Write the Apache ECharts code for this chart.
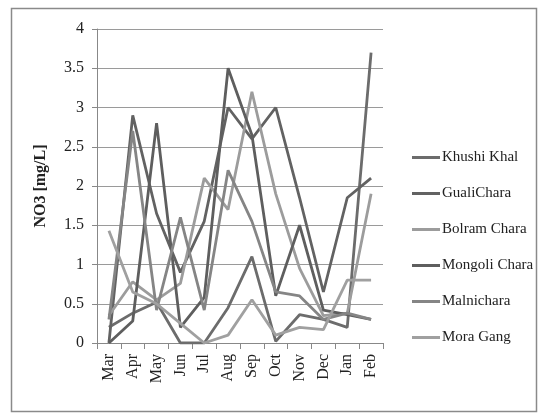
<!DOCTYPE html>
<html><head><meta charset="utf-8">
<script src="https://cdn.jsdelivr.net/npm/echarts@6/dist/echarts.min.js"></script>
<style>html,body{margin:0;padding:0;background:#fff}#c{width:544px;height:420px}</style>
</head><body><div id="c"></div>
<script>
const months = ['Mar','Apr','May','Jun','Jul','Aug','Sep','Oct','Nov','Dec','Jan','Feb'];
const yTicks = [0,0.5,1,1.5,2,2.5,3,3.5,4];
const khushiKhal   = [0.2, 0.38, 0.52, 0, 0, 0.45, 1.1, 0.02, 0.36, 0.3, 0.2, 3.7];
const gualiChara   = [0, 2.9, 1.65, 0.9, 1.55, 3.0, 2.6, 3.0, 1.85, 0.65, 1.85, 2.1];
const bolramChara  = [0.35, 0.78, 0.55, 0.76, 2.1, 1.7, 3.2, 1.9, 0.95, 0.35, 0.38, 1.9];
const mongoliChara = [0, 0.28, 2.8, 0.2, 0.58, 3.5, 2.65, 0.6, 1.5, 0.42, 0.36, 0.3];
const malnichara   = [0.3, 2.7, 0.42, 1.6, 0.42, 2.2, 1.55, 0.65, 0.6, 0.3, 0.38, 0.3];
const moraGang     = [1.43, 0.65, 0.5, 0.25, 0, 0.1, 0.55, 0.1, 0.2, 0.17, 0.8, 0.8];

const names = ['Khushi Khal','GualiChara','Bolram Chara','Mongoli Chara','Malnichara','Mora Gang'];
const datas = [khushiKhal, gualiChara, bolramChara, mongoliChara, malnichara, moraGang];
const colors = ['#6c6c6c','#626262','#9c9c9c','#5e5e5e','#858585','#a0a0a0'];
const font = '"Liberation Serif","Times New Roman",serif';

const chart = echarts.init(document.getElementById('c'), null, {renderer:'canvas'});
chart.setOption({
  animation:false,
  backgroundColor:'#fff',
  graphic:[{type:'rect',shape:{x:11.5,y:8.5,width:525,height:403},style:{fill:'none',stroke:'#8a8a8a',lineWidth:1.5},silent:true,z:-1}],
  grid:{left:97,top:29,right:161,bottom:77,containLabel:false},
  legend:{
    orient:'vertical',left:407,top:145,itemGap:21,itemWidth:28,itemHeight:3,icon:'rect',
    textStyle:{fontFamily:font,fontSize:15,color:'#222',padding:[0,0,0,-3]},
    data:names
  },
  xAxis:{
    type:'category',data:months,boundaryGap:true,
    axisLine:{lineStyle:{color:'#888',width:1}},
    axisTick:{show:true,alignWithLabel:false,length:6,lineStyle:{color:'#888'}},
    axisLabel:{rotate:90,fontFamily:font,fontSize:16,color:'#222',margin:11,interval:0}
  },
  yAxis:{
    type:'value',min:0,max:4,interval:0.5,
    name:'NO3 [mg/L]',nameLocation:'middle',nameGap:48,
    nameTextStyle:{fontFamily:font,fontSize:16,fontWeight:'bold',color:'#222'},
    axisLine:{show:true,lineStyle:{color:'#888'}},
    axisTick:{show:true,length:5,lineStyle:{color:'#888'}},
    splitLine:{lineStyle:{color:'#9a9a9a',width:1}},
    axisLabel:{fontFamily:font,fontSize:16,color:'#222',margin:13,
      formatter:v=>yTicks.includes(v)?String(v):''}
  },
  series:names.map((n,i)=>({
    name:n,type:'line',data:datas[i],symbol:'none',
    lineStyle:{color:colors[i],width:2.8},itemStyle:{color:colors[i]}
  }))
});
</script></body></html>
